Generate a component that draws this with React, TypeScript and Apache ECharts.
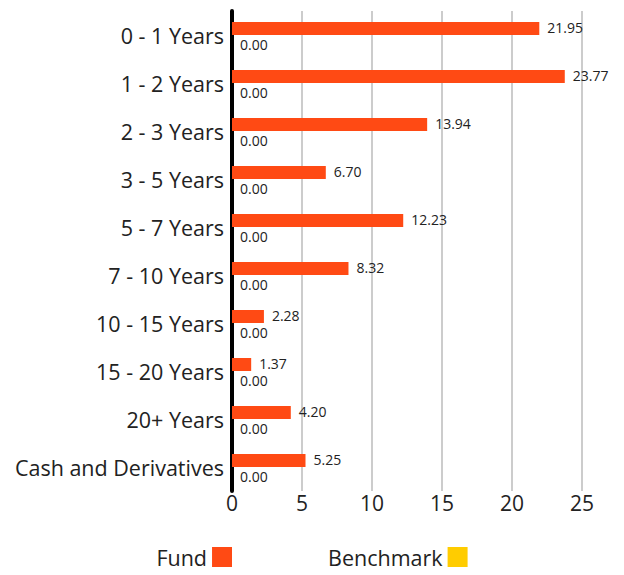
import React, { useEffect, useRef } from "react";
import * as echarts from "echarts";

const categories = [
  "0 - 1 Years",
  "1 - 2 Years",
  "2 - 3 Years",
  "3 - 5 Years",
  "5 - 7 Years",
  "7 - 10 Years",
  "10 - 15 Years",
  "15 - 20 Years",
  "20+ Years",
  "Cash and Derivatives",
];
const fundValues = [21.95, 23.77, 13.94, 6.7, 12.23, 8.32, 2.28, 1.37, 4.2, 5.25];
const benchmarkValues = [0, 0, 0, 0, 0, 0, 0, 0, 0, 0];
const xTicks = [0, 5, 10, 15, 20, 25];

const FONT = "'Open Sans', sans-serif";

export default function App() {
  const ref = useRef<HTMLDivElement>(null);
  useEffect(() => {
    document.body.style.margin = "0";
    const chart = echarts.init(ref.current!, null, { renderer: "svg" });
    const labelBase = {
      show: true,
      position: "right",
      distance: 8,
      color: "#222",
      fontSize: 14,
      fontFamily: FONT,
      formatter: (p: any) => Number(p.value).toFixed(2),
    };
    chart.setOption({
      animation: false,
      textStyle: { fontFamily: FONT },
      grid: { left: 232, right: 42, top: 11, bottom: 84, containLabel: false },
      legend: {
        bottom: 2,
        left: "center",
        align: "right",
        itemWidth: 20,
        itemHeight: 20,
        itemGap: 96,
        icon: "rect",
        textStyle: { fontSize: 21.5, color: "#222", fontFamily: FONT },
        data: ["Fund", "Benchmark"],
      },
      xAxis: {
        type: "value",
        min: xTicks[0],
        max: xTicks[xTicks.length - 1],
        interval: 5,
        axisLine: { show: false },
        axisTick: { show: false },
        splitLine: { show: true, lineStyle: { color: "#cccccc", width: 2 } },
        axisLabel: { fontSize: 21, color: "#222", margin: 1, fontFamily: FONT },
      },
      yAxis: {
        type: "category",
        data: categories,
        inverse: true,
        axisTick: { show: false },
        axisLine: { show: true, lineStyle: { color: "#000", width: 4 } },
        axisLabel: {
          fontSize: 21.5,
          color: "#222",
          margin: 8,
          fontFamily: FONT,
          padding: [0, 0, 4, 0],
        },
      },
      series: [
        {
          name: "Fund",
          type: "bar",
          data: fundValues,
          barWidth: 13,
          barGap: "0%",
          itemStyle: { color: "#FF4A14" },
          label: { ...labelBase, offset: [0, -1] },
        },
        {
          name: "Benchmark",
          type: "bar",
          data: benchmarkValues,
          barWidth: 13,
          barGap: "0%",
          itemStyle: { color: "#FFCC00" },
          label: { ...labelBase, offset: [0, 3] },
        },
      ],
    });
    return () => chart.dispose();
  }, []);
  return <div ref={ref} style={{ width: 624, height: 575 }} />;
}
